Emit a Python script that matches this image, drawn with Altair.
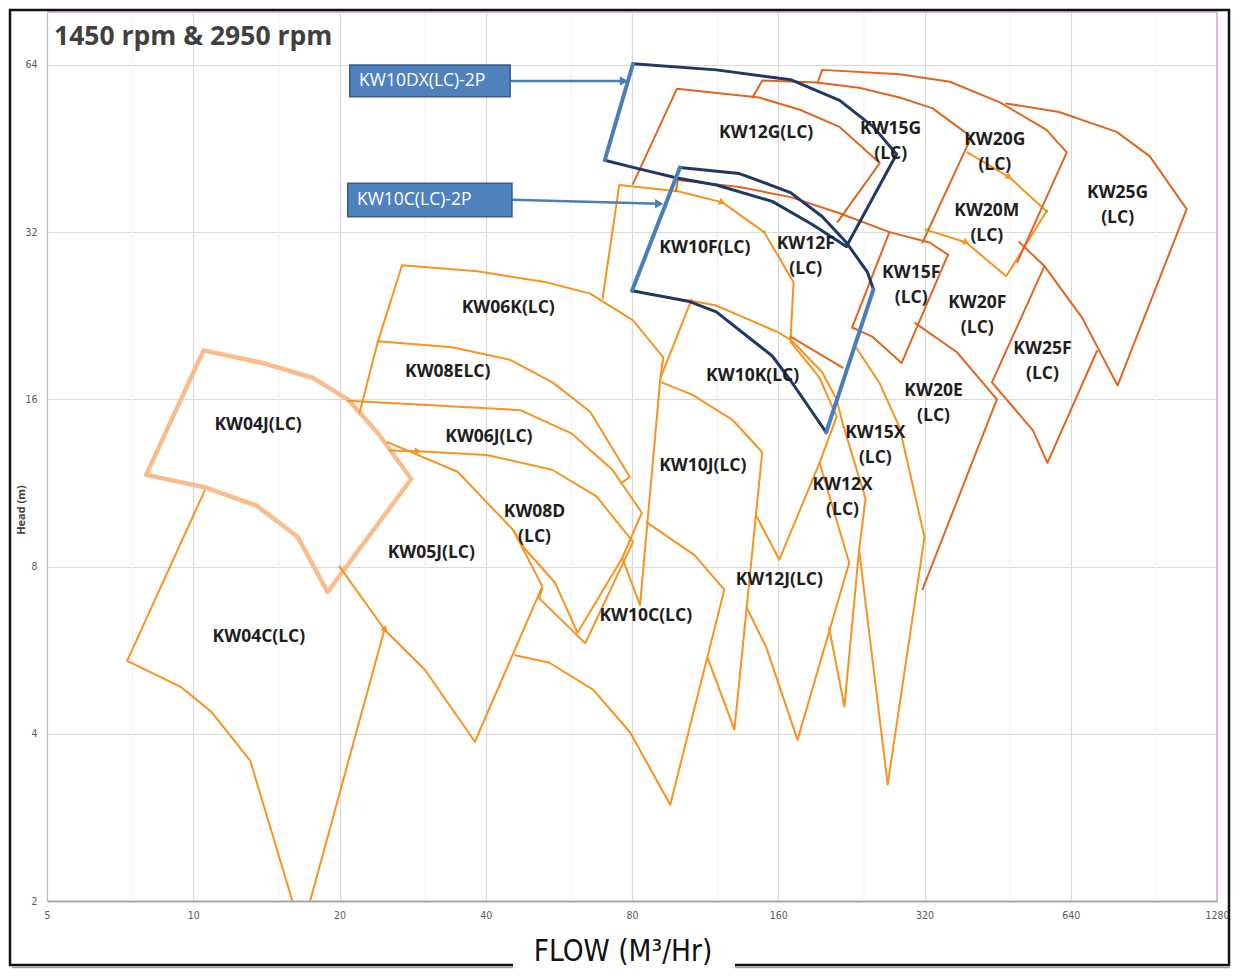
import altair as alt
import pandas as pd

# ---------------- axes ----------------
FLOW_TICKS = [5, 10, 20, 40, 80, 160, 320, 640, 1280]
HEAD_TICKS = [2, 4, 8, 16, 32, 64]
MINOR_FLOW = [7.5, 15, 30, 60, 120, 240, 480, 960]

# ---------------- light orange outlines (flow m3/h, head m) ----------------
KW04C_FLOW = [24.8, 17.4, 17.4, 16.0, 16.0, 13.1, 10.9, 9.42, 7.31, 10.55]
KW04C_HEAD = [6.2, 2.0, 1.85, 1.85, 2.0, 3.58, 4.38, 4.86, 5.41, 10.95]
KW05J_FLOW = [25.1, 35.0, 45.6, 52.3, 38.0, 30.0, 24.8, 20.0]
KW05J_HEAD = [13.4, 11.85, 9.30, 7.37, 3.87, 5.21, 6.15, 8.0]
KW06J_FLOW = [20.8, 47.1, 60.0, 72.9, 83.8, 76.4, 61.8, 55.5, 48.0, 45.6]
KW06J_HEAD = [15.9, 15.3, 13.9, 11.95, 10.0, 8.29, 6.08, 7.49, 8.64, 9.30]
KW08D_FLOW = [25.4, 29.0, 40.2, 54.8, 67.6, 80.4, 64.1, 51.5, 52.3]
KW08D_HEAD = [12.95, 12.9, 12.7, 11.95, 10.7, 8.86, 5.82, 7.02, 7.30]
KW08E_FLOW = [22.0, 24.0, 34.1, 44.9, 55.0, 65.6, 79.2, 76.0]
KW08E_HEAD = [15.15, 20.35, 19.85, 18.85, 17.15, 15.2, 11.6, 11.3]
KW06K_FLOW = [24.0, 26.9, 38.4, 53.3, 65.6, 80.4, 92.8, 91.5]
KW06K_HEAD = [20.35, 27.9, 27.2, 26.0, 24.8, 22.2, 19.05, 17.45]
KW10L_FLOW = [106.1, 91.5, 83.1, 76.4]
KW10L_HEAD = [24.2, 17.45, 6.82, 8.29]
KW10C_FLOW = [85.8, 107.6, 123.9, 95.9, 79.2, 66.6, 54.1, 46.0]
KW10C_HEAD = [9.61, 8.39, 7.27, 2.98, 4.03, 4.80, 5.37, 5.54]
KW10J_FLOW = [91.5, 106.6, 128.8, 148.3, 130, 114.6]
KW10J_HEAD = [17.2, 16.3, 14.7, 12.85, 4.07, 5.47]
KW10K_FLOW = [105.1, 119.3, 158.5, 169.6, 197, 211, 217, 242, 234.7, 219, 203.6]
KW10K_HEAD = [24.1, 23.6, 21.2, 20.5, 17.9, 16.0, 14.5, 10.6, 8.57, 4.48, 6.2]
KW12X_FLOW = [169.6, 194.6, 211, 194.6, 160.8, 144.4]
KW12X_HEAD = [20.3, 17.5, 14.9, 12.3, 8.23, 9.85]
KW12J_FLOW = [194.6, 224, 175.3, 151.1, 137.7]
KW12J_HEAD = [12.3, 8.13, 3.90, 5.73, 6.76]
KW15X_FLOW = [229, 258.8, 284.3, 320, 268.8, 234.7]
KW15X_HEAD = [20.1, 17.1, 14.25, 9.04, 3.24, 8.57]
KW12F_FLOW = [69.6, 75.3, 99.4, 122.7, 149.7, 172, 169.6]
KW12F_HEAD = [24.3, 38.9, 37.9, 36.2, 32.0, 26.0, 20.5]
KW20M_FLOW = [392, 478, 570.5, 471.4, 390, 323]
KW20M_HEAD = [44.55, 40.2, 34.9, 26.65, 30.65, 32.3]

# ---------------- dark orange outlines ----------------
KW12G_FLOW = [80.4, 99.0, 146.2, 177.8, 214, 258.8, 212]
KW12G_HEAD = [39.1, 58.0, 55.9, 53.1, 49.5, 42.6, 33.4]
KW15G_FLOW = [141.7, 148.3, 192, 234.7, 284.3, 332, 399.6, 317]
KW15G_HEAD = [55.9, 60.0, 59.5, 58.2, 55.9, 53.5, 47.5, 30.65]
KW12GB_FLOW = [98.5, 99.4, 133.1, 169.6, 214, 271, 327.7, 357.7]
KW12GB_HEAD = [37.9, 39.7, 38.6, 37.0, 34.6, 32.0, 30.65, 29.15]
KW15F_FLOW = [357.7, 287, 250, 227, 271]
KW15F_HEAD = [29.15, 18.6, 20.75, 21.55, 32.0]
KW20G_FLOW = [192.9, 197, 284.3, 361, 457.3, 570.5, 628, 496.8]
KW20G_HEAD = [59.5, 62.7, 61.6, 59.7, 54.8, 48.9, 44.55, 28.25]
KW25G_FLOW = [471.4, 605.6, 795.5, 931, 1108.7, 799.3, 724.6, 676.3, 565, 501.4]
KW25G_HEAD = [54.55, 52.65, 48.5, 43.8, 35.2, 16.95, 19.95, 22.4, 27.8, 30.7]
KW20E_FLOW = [306.3, 373.3, 450.9, 317]
KW20E_HEAD = [21.95, 19.45, 16.0, 7.28]
KW25F_FLOW = [724.6, 573, 535, 440.5, 565]
KW25F_HEAD = [19.55, 12.3, 14.07, 17.17, 27.8]
KW15FB_FLOW = [169.6, 217]
KW15FB_HEAD = [20.75, 18.25]

# ---------------- KW04J (thick peach) ----------------
KW04J_FLOW = [10.5, 13.9, 17.6, 20.8, 24.0, 28.1, 18.9, 16.4, 13.5, 10.6, 8.0, 10.5]
KW04J_HEAD = [19.6, 18.6, 17.5, 16.0, 13.9, 11.5, 7.2, 9.05, 10.3, 11.1, 11.7, 19.6]

# ---------------- 2-pole outlines ----------------
DX_TOP_FLOW = [80.4, 119.3, 169.6, 214, 251.2, 280.3, 221]
DX_TOP_HEAD = [64.3, 62.7, 60.2, 55.25, 49.5, 44.2, 30.15]
DX_BOT_FLOW = [70.3, 80.4, 99.0, 119.3, 155.5, 188.4, 221]
DX_BOT_HEAD = [43.1, 41.85, 40.05, 38.9, 36.35, 33.0, 30.15]
C2_TOP_FLOW = [100.4, 133.1, 169.6, 197, 221, 244.2, 251.2]
C2_TOP_HEAD = [41.85, 40.8, 37.7, 34.15, 30.65, 27.1, 25.25]
C2_BOT_FLOW = [80.0, 105.1, 119.3, 155.5, 169.6, 200.8]
C2_BOT_HEAD = [25.1, 24.0, 23.0, 19.15, 17.3, 13.95]
DX_LEFT_FLOW = [80.4, 70.3]
DX_LEFT_HEAD = [64.3, 43.1]
C2_LEFT_FLOW = [100.4, 80.0]
C2_LEFT_HEAD = [41.85, 25.1]
C2_RIGHT_FLOW = [200.8, 251.2]
C2_RIGHT_HEAD = [13.95, 25.25]

# ---------------- labels ----------------
LABEL_TEXT = ["KW04J(LC)", "KW04C(LC)", "KW05J(LC)", "KW06K(LC)", "KW08ELC)", "KW06J(LC)",
              "KW08D\n(LC)", "KW10C(LC)", "KW10J(LC)", "KW12J(LC)", "KW10K(LC)", "KW10F(LC)",
              "KW12F\n(LC)", "KW12G(LC)", "KW15G\n(LC)", "KW20G\n(LC)", "KW20M\n(LC)",
              "KW25G\n(LC)", "KW15F\n(LC)", "KW20F\n(LC)", "KW25F\n(LC)", "KW20E\n(LC)",
              "KW15X\n(LC)", "KW12X\n(LC)"]
LABEL_FLOW = [13.6, 13.65, 30.9, 44.5, 33.4, 40.6, 50.4, 85.4, 111.9, 160.8, 141.7, 113,
              182.3, 151.1, 272.6, 446.6, 430, 799.3, 300.4, 411, 559.6, 334, 253.5, 217]
LABEL_HEAD = [14.4, 5.98, 8.46, 23.4, 17.9, 13.7, 10.05, 6.53, 12.15, 7.58, 17.65, 30.0,
              30.5, 48.3, 49.1, 46.9, 35.0, 37.6, 27.0, 23.9, 19.7, 16.55, 13.9, 11.2]

# direction markers on curves
MARK_FLOW = [29.0, 24.8, 122.7, 478, 390]
MARK_HEAD = [12.9, 6.2, 36.2, 40.2, 30.65]
MARK_ANGLE = [0, 286, 25, 37, 30]
DOT_FLOW = [149.7, 570.5, 323]
DOT_HEAD = [32.0, 34.9, 32.3]

# callout boxes
BOX_TEXT = ["KW10DX(LC)-2P", "KW10C(LC)-2P"]
BOX_FLOW1 = [21.0, 20.8]
BOX_FLOW2 = [44.9, 45.3]
BOX_HEAD1 = [56.1, 34.1]
BOX_HEAD2 = [64.0, 39.2]
BOX_TEXT_FLOW = [29.6, 28.5]
BOX_TEXT_HEAD = [59.9, 36.6]
ARROW_FLOW1 = [44.9, 45.3]
ARROW_HEAD1 = [59.9, 36.6]
ARROW_FLOW2 = [77.0, 91.0]
ARROW_HEAD2 = [59.9, 36.0]

LIGHT = "#F7931E"
DARK = "#E2651F"
PEACH = "#F9BD8D"
NAVY = "#203864"
BLUE = "#4A7EBB"
PINK = "#D9A3D9"

xs = alt.Scale(type="log", base=2, domain=[5, 1280], nice=False)
ys = alt.Scale(type="log", base=2, domain=[2, 79.7], nice=False)
X = alt.X("flow:Q", scale=xs,
          axis=alt.Axis(values=FLOW_TICKS, title=None, format="d", ticks=False,
                        labelPadding=9, grid=True, labelFlush=False,
                        domainColor="#A6A6A6", domainWidth=2))
Y = alt.Y("head:Q", scale=ys,
          axis=alt.Axis(values=HEAD_TICKS, title=None, format="d", ticks=False,
                        labelPadding=10, grid=True, labelFlush=False,
                        domainColor="#BFBFBF", domainWidth=1.2))


def line_layer(series, color, width):
    rows = []
    for name, fl, hd in series:
        for i, (f, h) in enumerate(zip(fl, hd)):
            rows.append({"name": name, "i": i, "flow": f, "head": h})
    return alt.Chart(pd.DataFrame(rows)).mark_line(
        color=color, strokeWidth=width, clip=True, strokeJoin="round", strokeCap="round"
    ).encode(x=X, y=Y, detail="name:N", order="i:Q")


one = pd.DataFrame({"a": [0]})

minor = alt.Chart(pd.DataFrame({"flow": MINOR_FLOW})).mark_rule(
    color="#EFEFEF", strokeWidth=1).encode(x=X)

light = line_layer([
    ("KW04C", KW04C_FLOW, KW04C_HEAD), ("KW05J", KW05J_FLOW, KW05J_HEAD),
    ("KW06J", KW06J_FLOW, KW06J_HEAD), ("KW08D", KW08D_FLOW, KW08D_HEAD),
    ("KW08E", KW08E_FLOW, KW08E_HEAD), ("KW06K", KW06K_FLOW, KW06K_HEAD),
    ("KW10L", KW10L_FLOW, KW10L_HEAD), ("KW10C", KW10C_FLOW, KW10C_HEAD),
    ("KW10J", KW10J_FLOW, KW10J_HEAD), ("KW10K", KW10K_FLOW, KW10K_HEAD),
    ("KW12X", KW12X_FLOW, KW12X_HEAD), ("KW12J", KW12J_FLOW, KW12J_HEAD),
    ("KW15X", KW15X_FLOW, KW15X_HEAD), ("KW12F", KW12F_FLOW, KW12F_HEAD),
    ("KW20M", KW20M_FLOW, KW20M_HEAD)], LIGHT, 2)

dark = line_layer([
    ("KW12G", KW12G_FLOW, KW12G_HEAD), ("KW15G", KW15G_FLOW, KW15G_HEAD),
    ("KW12GB", KW12GB_FLOW, KW12GB_HEAD), ("KW15F", KW15F_FLOW, KW15F_HEAD),
    ("KW20G", KW20G_FLOW, KW20G_HEAD), ("KW25G", KW25G_FLOW, KW25G_HEAD),
    ("KW20E", KW20E_FLOW, KW20E_HEAD), ("KW25F", KW25F_FLOW, KW25F_HEAD),
    ("KW15FB", KW15FB_FLOW, KW15FB_HEAD)], DARK, 2)

peach = line_layer([("KW04J", KW04J_FLOW, KW04J_HEAD)], PEACH, 4.5)

navy = line_layer([
    ("DXT", DX_TOP_FLOW, DX_TOP_HEAD), ("DXB", DX_BOT_FLOW, DX_BOT_HEAD),
    ("C2T", C2_TOP_FLOW, C2_TOP_HEAD), ("C2B", C2_BOT_FLOW, C2_BOT_HEAD)], NAVY, 3)

blue = line_layer([
    ("DXL", DX_LEFT_FLOW, DX_LEFT_HEAD), ("C2L", C2_LEFT_FLOW, C2_LEFT_HEAD),
    ("C2R", C2_RIGHT_FLOW, C2_RIGHT_HEAD)], BLUE, 4)

markers = alt.Chart(pd.DataFrame({"flow": MARK_FLOW, "head": MARK_HEAD, "ang": MARK_ANGLE})).mark_point(
    shape="triangle-right", filled=True, size=55, color=LIGHT, opacity=1
).encode(x=X, y=Y, angle=alt.Angle("ang:Q", scale=None))

dots = alt.Chart(pd.DataFrame({"flow": DOT_FLOW, "head": DOT_HEAD})).mark_point(
    shape="square", filled=True, size=10, color="#8DC63F", opacity=1).encode(x=X, y=Y)

labels = alt.Chart(pd.DataFrame({"t": LABEL_TEXT, "flow": LABEL_FLOW, "head": LABEL_HEAD})).mark_text(
    font="Open Sans", fontSize=17.5, fontWeight="bold", color="#1E1E1E",
    lineBreak="\n", lineHeight=25, align="center", baseline="middle"
).encode(x=X, y=Y, text="t:N")

bdf = pd.DataFrame({"flow": BOX_FLOW1, "flow2": BOX_FLOW2, "head": BOX_HEAD1, "head2": BOX_HEAD2})
boxes = alt.Chart(bdf).mark_rect(color="#4F81BD", stroke="#385D8A", strokeWidth=1.5).encode(
    x=X, x2="flow2:Q", y=Y, y2="head2:Q")
box_text = alt.Chart(pd.DataFrame({"t": BOX_TEXT, "flow": BOX_TEXT_FLOW, "head": BOX_TEXT_HEAD})).mark_text(
    font="Open Sans", fontSize=17.5, color="white", align="center", baseline="middle"
).encode(x=X, y=Y, text="t:N")

adf = pd.DataFrame({"flow": ARROW_FLOW1, "flow2": ARROW_FLOW2, "head": ARROW_HEAD1, "head2": ARROW_HEAD2})
arrows = alt.Chart(adf).mark_rule(color=BLUE, strokeWidth=2.5).encode(x=X, x2="flow2:Q", y=Y, y2="head2:Q")
heads = alt.Chart(pd.DataFrame({"flow": ARROW_FLOW2, "head": ARROW_HEAD2})).mark_point(
    shape="triangle-right", filled=True, size=90, color=BLUE, opacity=1).encode(x=X, y=Y)

title = alt.Chart(one).mark_text(
    text="1450 rpm & 2950 rpm", font="Open Sans", fontSize=26.5, fontWeight="bold",
    color="#404040", align="left", baseline="middle"
).encode(x=alt.value(7), y=alt.value(25))

ytitle = alt.Chart(one).mark_text(
    text="Head (m)", font="Open Sans", fontSize=11, fontWeight="bold", color="#404040",
    angle=270, align="center", baseline="middle"
).encode(x=alt.value(-25), y=alt.value(498))

# plot-area border on the top and right (pink) as in the original
top_border = alt.Chart(one).mark_rule(color=PINK, strokeWidth=1.5).encode(
    x=alt.value(0), x2=alt.value(1170), y=alt.value(0))
right_border = alt.Chart(one).mark_rule(color=PINK, strokeWidth=1.5).encode(
    x=alt.value(1170), y=alt.value(0), y2=alt.value(889))

frame = alt.Chart(one).mark_rect(fillOpacity=0, stroke="#111111", strokeWidth=2.5).encode(
    x=alt.value(-37), x2=alt.value(1182), y=alt.value(-2), y2=alt.value(953))
shadow = alt.Chart(one).mark_rule(color="#9A9A9A", strokeWidth=1.5).encode(
    x=alt.value(-35), x2=alt.value(1183), y=alt.value(955.5))

xt_bg = alt.Chart(one).mark_rect(color="white").encode(
    x=alt.value(466), x2=alt.value(688), y=alt.value(936), y2=alt.value(958))
xtitle = alt.Chart(one).mark_text(
    text="FLOW (M³/Hr)", font="Liberation Sans Narrow, DejaVu Sans Condensed, sans-serif",
    fontSize=29.5, color="#111111", align="center", baseline="alphabetic"
).encode(x=alt.value(576), y=alt.value(949))

chart = alt.layer(
    minor, peach, light, dark, navy, blue, markers, dots, labels,
    arrows, heads, boxes, box_text, title, ytitle, top_border, right_border,
    frame, shadow, xt_bg, xtitle
).properties(
    width=1170, height=889,
    autosize=alt.AutoSizeParams(type="none"),
    padding={"left": 39, "top": 4, "right": 15, "bottom": 68},
    background="white",
).configure_view(
    strokeOpacity=0
).configure_axis(
    gridColor="#D9D9D9", gridWidth=1.2,
    labelFont="Liberation Sans Narrow, DejaVu Sans Condensed, sans-serif",
    labelFontSize=10.5, labelColor="#595959"
)

chart.save("out.html", embed_options={"renderer": "svg", "actions": False})
